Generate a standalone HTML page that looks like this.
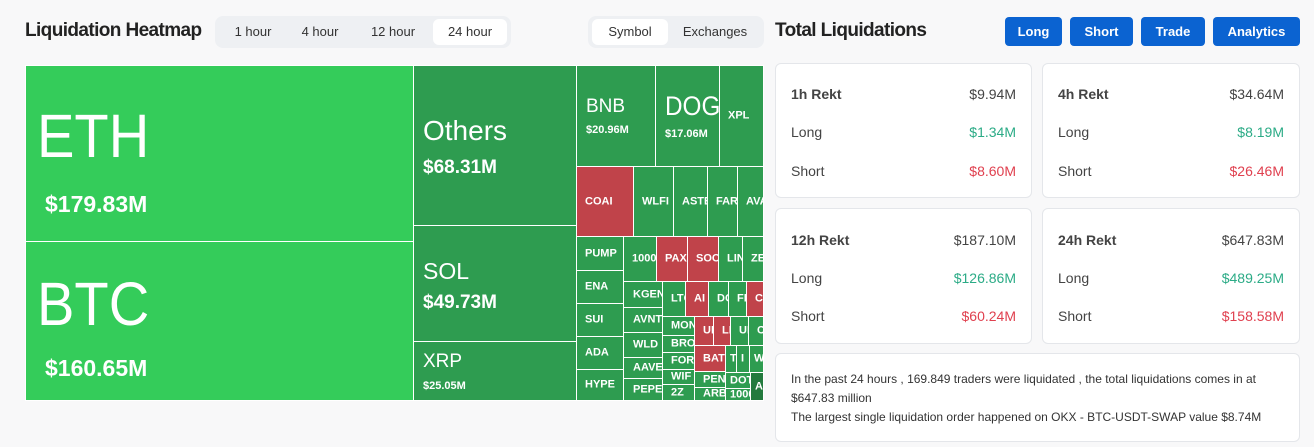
<!DOCTYPE html>
<html><head><meta charset="utf-8"><style>
*{box-sizing:border-box;margin:0;padding:0}
body{width:1314px;height:447px;background:#f8f8f9;font-family:"Liberation Sans",sans-serif;position:relative;overflow:hidden;color:#222}
.a{position:absolute}
.c{position:absolute;border:1px solid #fff;color:#fff;overflow:hidden;white-space:nowrap;background:#2e9c50}
.b{background:#34cc5a}.r{background:#c0434a}.d{background:#237a3e}
.c span{position:absolute;line-height:1}
.s{font-size:11px;font-weight:bold;left:8px;top:50%;transform:translateY(-50%)}
.tab{position:absolute;top:16px;height:32px;background:#eef0f3;border-radius:8px}
.tab div{position:absolute;top:3px;height:26px;line-height:26px;font-size:13px;color:#333;text-align:center;border-radius:6px}
.btn{position:absolute;top:17px;height:29px;background:#0b63d1;color:#fff;font-size:13px;font-weight:bold;text-align:center;line-height:29px;border-radius:4px}
.card{position:absolute;background:#fff;border:1px solid #e4e6ea;border-radius:6px}
.card div{position:absolute;font-size:14px;color:#444}
.card .l{left:15px}.card .v{right:15px}
.g{color:#2bab86!important}.rd{color:#e0404f!important}
.big{font-size:61px;transform:scaleX(0.92);transform-origin:left}
</style></head><body>
<div class="a" style="left:25px;top:20px;font-size:19px;font-weight:bold;letter-spacing:-0.6px">Liquidation Heatmap</div>
<div class="tab" style="left:215px;width:296px">
<div style="left:6px;width:64px">1 hour</div>
<div style="left:72px;width:66px">4 hour</div>
<div style="left:142px;width:72px">12 hour</div>
<div style="left:218px;width:74px;background:#fff">24 hour</div>
</div>
<div class="tab" style="left:588px;width:176px">
<div style="left:4px;width:76px;background:#fff">Symbol</div>
<div style="left:82px;width:90px">Exchanges</div>
</div>
<div class="a" style="left:775px;top:20px;font-size:19px;font-weight:bold;letter-spacing:-0.6px">Total Liquidations</div>
<div class="btn" style="left:1005px;width:57px">Long</div>
<div class="btn" style="left:1070px;width:63px">Short</div>
<div class="btn" style="left:1141px;width:64px">Trade</div>
<div class="btn" style="left:1213px;width:87px">Analytics</div>

<div class="c b" style="left:25px;top:65px;width:389px;height:177px"><span class="big" style="left:11px;top:40px">ETH</span><span style="left:19px;top:127px;font-size:23px;font-weight:bold">$179.83M</span></div>
<div class="c b" style="left:25px;top:241px;width:389px;height:160px"><span class="big" style="left:11px;top:32px">BTC</span><span style="left:19px;top:115px;font-size:23px;font-weight:bold">$160.65M</span></div>
<div class="c" style="left:413px;top:65px;width:164px;height:161px"><span style="left:9px;top:51px;font-size:28px">Others</span><span style="left:9px;top:92px;font-size:19px;font-weight:bold">$68.31M</span></div>
<div class="c" style="left:413px;top:225px;width:164px;height:117px"><span style="left:9px;top:34px;font-size:23px">SOL</span><span style="left:9px;top:67px;font-size:19px;font-weight:bold">$49.73M</span></div>
<div class="c" style="left:413px;top:341px;width:164px;height:60px"><span style="left:9px;top:10px;font-size:19px">XRP</span><span style="left:9px;top:39px;font-size:11px;font-weight:bold">$25.05M</span></div>
<div class="c" style="left:576px;top:65px;width:80px;height:102px"><span style="left:9px;top:31px;font-size:19px">BNB</span><span style="left:9px;top:59px;font-size:11px;font-weight:bold">$20.96M</span></div>
<div class="c" style="left:655px;top:65px;width:65px;height:102px"><span style="left:9px;top:27px;font-size:27px;transform:scaleX(0.9);transform-origin:left">DOGE</span><span style="left:9px;top:63px;font-size:11px;font-weight:bold">$17.06M</span></div>
<div class="c" style="left:719px;top:65px;width:45px;height:102px"><span class="s">XPL</span></div>
<div class="c r" style="left:576px;top:166px;width:58px;height:71px"><span class="s">COAI</span></div>
<div class="c" style="left:633px;top:166px;width:41px;height:71px"><span class="s">WLFI</span></div>
<div class="c" style="left:673px;top:166px;width:35px;height:71px"><span class="s">ASTER</span></div>
<div class="c" style="left:707px;top:166px;width:31px;height:71px"><span class="s">FAR</span></div>
<div class="c" style="left:737px;top:166px;width:27px;height:71px"><span class="s">AVAX</span></div>
<div class="c" style="left:576px;top:236px;width:48px;height:35px"><span class="s">PUMP</span></div>
<div class="c" style="left:576px;top:270px;width:48px;height:34px"><span class="s">ENA</span></div>
<div class="c" style="left:576px;top:303px;width:48px;height:34px"><span class="s">SUI</span></div>
<div class="c" style="left:576px;top:336px;width:48px;height:34px"><span class="s">ADA</span></div>
<div class="c" style="left:576px;top:369px;width:48px;height:32px"><span class="s">HYPE</span></div>
<div class="c" style="left:623px;top:236px;width:34px;height:46px"><span class="s">1000</span></div>
<div class="c r" style="left:656px;top:236px;width:32px;height:46px"><span class="s">PAXG</span></div>
<div class="c r" style="left:687px;top:236px;width:32px;height:46px"><span class="s">SOON</span></div>
<div class="c" style="left:718px;top:236px;width:25px;height:46px"><span class="s">LINK</span></div>
<div class="c" style="left:742px;top:236px;width:22px;height:46px"><span class="s">ZEC</span></div>
<div class="c" style="left:623px;top:281px;width:40px;height:27px"><span class="s" style="left:9px">KGEN</span></div>
<div class="c" style="left:623px;top:307px;width:40px;height:26px"><span class="s" style="left:9px">AVNT</span></div>
<div class="c" style="left:623px;top:332px;width:40px;height:26px"><span class="s" style="left:9px">WLD</span></div>
<div class="c" style="left:623px;top:357px;width:40px;height:22px"><span class="s" style="left:9px">AAVE</span></div>
<div class="c" style="left:623px;top:378px;width:40px;height:23px"><span class="s" style="left:9px">PEPE</span></div>
<div class="c" style="left:662px;top:281px;width:24px;height:36px"><span class="s">LTC</span></div>
<div class="c r" style="left:685px;top:281px;width:24px;height:36px"><span class="s">AI</span></div>
<div class="c" style="left:708px;top:281px;width:21px;height:36px"><span class="s">DOT</span></div>
<div class="c" style="left:728px;top:281px;width:19px;height:36px"><span class="s">FIL</span></div>
<div class="c r" style="left:746px;top:281px;width:18px;height:36px"><span class="s">CAKE</span></div>
<div class="c" style="left:662px;top:316px;width:33px;height:20px"><span class="s">MON</span></div>
<div class="c" style="left:662px;top:335px;width:33px;height:18px"><span class="s">BRO</span></div>
<div class="c" style="left:662px;top:352px;width:33px;height:18px"><span class="s">FORM</span></div>
<div class="c" style="left:662px;top:369px;width:33px;height:16px"><span class="s">WIF</span></div>
<div class="c" style="left:662px;top:384px;width:33px;height:17px"><span class="s">2Z</span></div>
<div class="c r" style="left:694px;top:316px;width:20px;height:30px"><span class="s">UNI</span></div>
<div class="c r" style="left:713px;top:316px;width:18px;height:30px"><span class="s">LDO</span></div>
<div class="c" style="left:730px;top:316px;width:19px;height:30px"><span class="s">UB</span></div>
<div class="c" style="left:748px;top:316px;width:16px;height:30px"><span class="s">CR</span></div>
<div class="c r" style="left:694px;top:345px;width:32px;height:27px"><span class="s">BAT</span></div>
<div class="c" style="left:694px;top:371px;width:32px;height:17px"><span class="s">PEN</span></div>
<div class="c" style="left:694px;top:387px;width:32px;height:14px"><span class="s">ARB</span></div>
<div class="c" style="left:725px;top:345px;width:12px;height:28px"><span class="s" style="left:4px">T</span></div>
<div class="c" style="left:736px;top:345px;width:14px;height:28px"><span class="s" style="left:4px">I</span></div>
<div class="c" style="left:749px;top:345px;width:15px;height:28px"><span class="s" style="left:4px">W</span></div>
<div class="c" style="left:725px;top:372px;width:26px;height:17px"><span class="s" style="left:4px">DOT</span></div>
<div class="c" style="left:725px;top:388px;width:26px;height:13px"><span class="s" style="left:4px">1000</span></div>
<div class="c d" style="left:750px;top:372px;width:14px;height:29px"><span class="s" style="left:4px">A</span></div>

<div class="card" style="left:775px;top:63px;width:257px;height:135px">
<div class="l" style="top:22px;font-weight:bold">1h Rekt</div><div class="v" style="top:22px">$9.94M</div>
<div class="l" style="top:60px">Long</div><div class="v g" style="top:60px">$1.34M</div>
<div class="l" style="top:99px">Short</div><div class="v rd" style="top:99px">$8.60M</div></div>
<div class="card" style="left:1042px;top:63px;width:258px;height:135px">
<div class="l" style="top:22px;font-weight:bold">4h Rekt</div><div class="v" style="top:22px">$34.64M</div>
<div class="l" style="top:60px">Long</div><div class="v g" style="top:60px">$8.19M</div>
<div class="l" style="top:99px">Short</div><div class="v rd" style="top:99px">$26.46M</div></div>
<div class="card" style="left:775px;top:208px;width:257px;height:136px">
<div class="l" style="top:23px;font-weight:bold">12h Rekt</div><div class="v" style="top:23px">$187.10M</div>
<div class="l" style="top:61px">Long</div><div class="v g" style="top:61px">$126.86M</div>
<div class="l" style="top:99px">Short</div><div class="v rd" style="top:99px">$60.24M</div></div>
<div class="card" style="left:1042px;top:208px;width:258px;height:136px">
<div class="l" style="top:23px;font-weight:bold">24h Rekt</div><div class="v" style="top:23px">$647.83M</div>
<div class="l" style="top:61px">Long</div><div class="v g" style="top:61px">$489.25M</div>
<div class="l" style="top:99px">Short</div><div class="v rd" style="top:99px">$158.58M</div></div>
<div class="card" style="left:775px;top:353px;width:525px;height:89px">
<div style="left:15px;top:16px;width:500px;font-size:12px;line-height:19px;color:#333">In the past 24 hours , 169.849 traders were liquidated , the total liquidations comes in at $647.83 million<br>The largest single liquidation order happened on OKX - BTC-USDT-SWAP value $8.74M</div></div>
</body></html>
